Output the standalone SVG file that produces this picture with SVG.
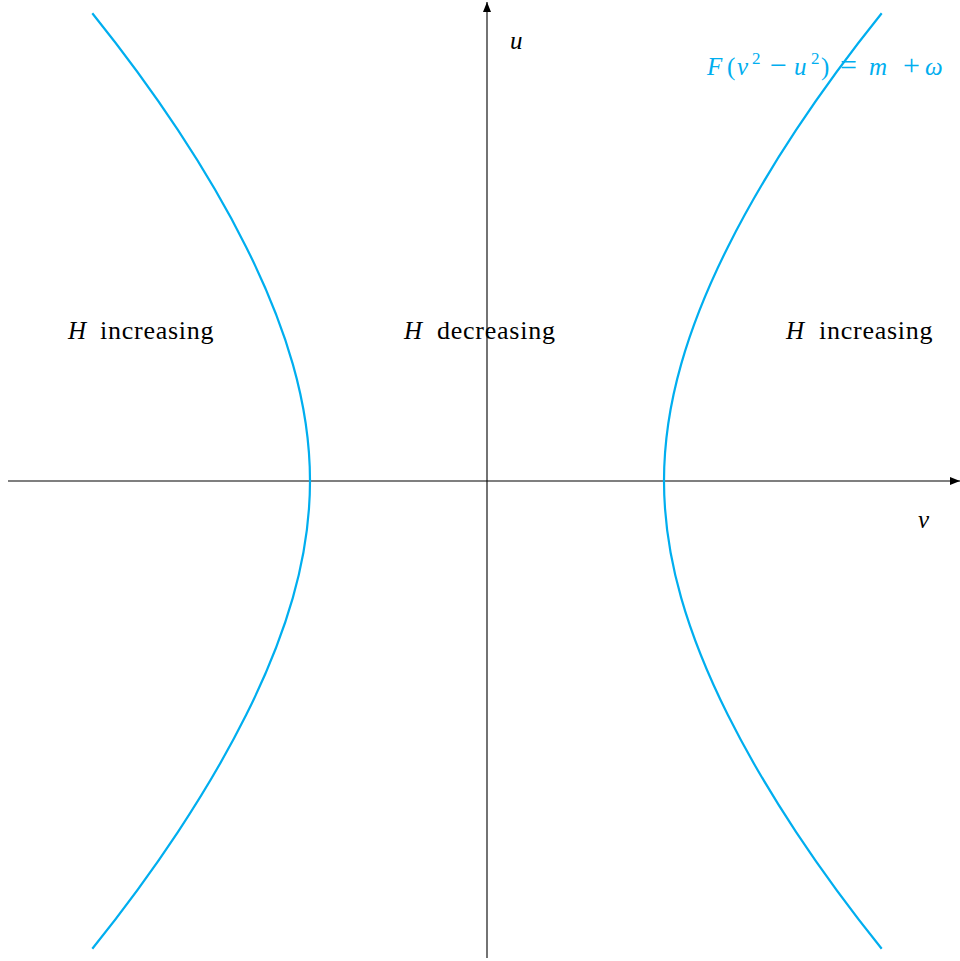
<svg xmlns="http://www.w3.org/2000/svg" width="960" height="961" viewBox="0 0 960 961">
<style>
.axis{stroke:#000;stroke-width:1.1;fill:none}
.curve{stroke:#00AEEF;stroke-width:2.2;fill:none}
text{font-family:'Liberation Serif','Times New Roman',serif;font-size:25px;fill:#000}
.it{font-style:italic}
.cy{fill:#00AEEF}
.sup{font-size:17px}
.op{font-size:30px}
.word{font-size:26px;letter-spacing:0.75px}
</style>
<defs>
<marker id="arr" viewBox="0 0 10 8" refX="10" refY="4" markerWidth="10" markerHeight="8" markerUnits="userSpaceOnUse" orient="auto">
<path d="M0,0 L10,4 L0,8 Z" fill="#000"/>
</marker>
</defs>
<g id="connectors">
<line class="axis" x1="8" y1="481" x2="960" y2="481" marker-end="url(#arr)"/>
<line class="axis" x1="487" y1="958" x2="487" y2="2" marker-end="url(#arr)"/>
</g>
<g id="right-branch">
<path class="curve" d="M881.70,948.70 C850.40,909.72 821.75,870.75 795.98,831.77 C770.21,792.80 747.25,753.82 727.78,714.85 C708.31,675.87 692.31,636.90 681.19,597.92 C670.07,558.95 664,519.97 664,481 C664,442.03 670.07,403.05 681.19,364.08 C692.31,325.10 708.31,286.13 727.78,247.15 C747.25,208.18 770.21,169.20 795.98,130.23 C821.75,91.25 850.40,52.28 881.70,13.30"/>
</g>
<g id="left-branch">
<path class="curve" d="M92.30,948.70 C123.60,909.72 152.25,870.75 178.02,831.77 C203.79,792.80 226.75,753.82 246.22,714.85 C265.69,675.87 281.69,636.90 292.81,597.92 C303.93,558.95 310,519.97 310,481 C310,442.03 303.93,403.05 292.81,364.08 C281.69,325.10 265.69,286.13 246.22,247.15 C226.75,208.18 203.79,169.20 178.02,130.23 C152.25,91.25 123.60,52.28 92.30,13.30"/>
</g>
<g id="label-u"><text class="it" x="510" y="49" style="font-family:'Liberation Serif',serif">u</text></g>
<g id="label-v"><text class="it" x="918" y="528" style="font-family:'Liberation Serif',serif">v</text></g>
<g id="label-left"><text y="339" style="font-family:'Liberation Serif',serif"><tspan class="it" x="68">H</tspan><tspan class="word" x="100">increasing</tspan></text></g>
<g id="label-mid"><text y="339" style="font-family:'Liberation Serif',serif"><tspan class="it" x="404">H</tspan><tspan class="word" x="437">decreasing</tspan></text></g>
<g id="label-right"><text y="339" style="font-family:'Liberation Serif',serif"><tspan class="it" x="786">H</tspan><tspan class="word" x="819">increasing</tspan></text></g>
<g id="label-curve"><text class="cy" y="75" style="font-family:'Liberation Serif',serif"><tspan class="it" x="707">F</tspan><tspan x="727">(</tspan><tspan class="it" x="737">v</tspan><tspan class="sup" x="752" y="64">2</tspan><tspan class="op" x="770" y="75">−</tspan><tspan class="it" x="794">u</tspan><tspan class="sup" x="811" y="64">2</tspan><tspan x="821" y="75">)</tspan><tspan class="op" x="840">=</tspan><tspan class="it" x="869">m</tspan><tspan class="op" x="903">+</tspan><tspan class="it" x="925">ω</tspan></text></g>
</svg>
